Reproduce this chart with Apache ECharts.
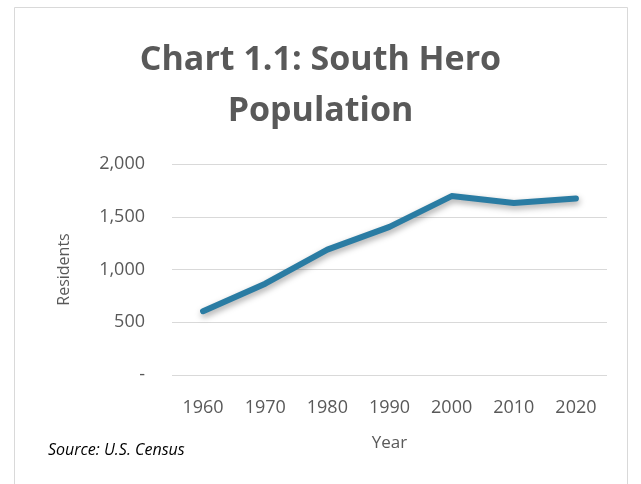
<!DOCTYPE html>
<html>
<head>
<meta charset="utf-8">
<script src="https://cdn.jsdelivr.net/npm/echarts@6/dist/echarts.min.js"></script>
<style>
  html, body { margin: 0; padding: 0; background: #fff; }
  #chart { width: 641px; height: 484px; }
</style>
</head>
<body>
<div id="chart"></div>
<script>
var years = ['1960', '1970', '1980', '1990', '2000', '2010', '2020'];
var residents = [605, 865, 1188, 1404, 1696, 1631, 1674];
var yTicks = [0, 500, 1000, 1500, 2000];

var grey = '#595959';
var font = '"Open Sans", "Liberation Sans", sans-serif';

var myChart = echarts.init(document.getElementById('chart'));
var option = {
    backgroundColor: '#fff',
    animation: false,
    title: {
        text: 'Chart 1.1: South Hero\nPopulation',
        left: 'center',
        top: 30,
        textStyle: {
            fontFamily: font,
            fontWeight: 'bold',
            fontSize: 34,
            lineHeight: 51,
            color: grey
        }
    },
    graphic: [{
        type: 'rect',
        shape: { x: 14.5, y: 7.5, width: 613, height: 490 },
        style: { fill: 'none', stroke: '#d9d9d9', lineWidth: 1 },
        z: -1
    }, {
        type: 'text',
        left: 48,
        top: 442,
        style: {
            text: 'Source: U.S. Census',
            font: 'italic 16px ' + font,
            fill: '#000'
        }
    }],
    grid: {
        left: 172,
        right: 34,
        top: 164,
        bottom: 109
    },
    xAxis: {
        type: 'category',
        data: years,
        boundaryGap: true,
        name: 'Year',
        nameLocation: 'middle',
        nameGap: 60,
        nameTextStyle: { fontFamily: font, fontSize: 17, color: grey },
        axisLine: { show: false },
        axisTick: { show: false },
        axisLabel: { fontFamily: font, fontSize: 18, color: grey, margin: 24 }
    },
    yAxis: {
        type: 'value',
        min: yTicks[0],
        max: yTicks[yTicks.length - 1],
        interval: 500,
        name: 'Residents',
        nameLocation: 'middle',
        nameGap: 100,
        nameTextStyle: { fontFamily: font, fontSize: 16, color: grey },
        axisLine: { show: false },
        axisTick: { show: false },
        splitLine: { lineStyle: { color: '#d9d9d9', width: 1 } },
        axisLabel: {
            fontFamily: font,
            fontSize: 18,
            color: grey,
            margin: 27,
            formatter: function (v) {
                return v === 0 ? '-' : v.toLocaleString('en-US');
            }
        }
    },
    series: [{
        type: 'line',
        data: residents,
        symbol: 'none',
        lineStyle: {
            color: '#2a7ca3',
            width: 6,
            cap: 'round',
            join: 'round',
            shadowColor: 'rgba(0,0,0,0.35)',
            shadowBlur: 6,
            shadowOffsetY: 3,
            shadowOffsetX: 1
        }
    }]
};
myChart.setOption(option);

window.addEventListener('resize', function () {
    myChart.resize();
});
</script>
</body>
</html>
